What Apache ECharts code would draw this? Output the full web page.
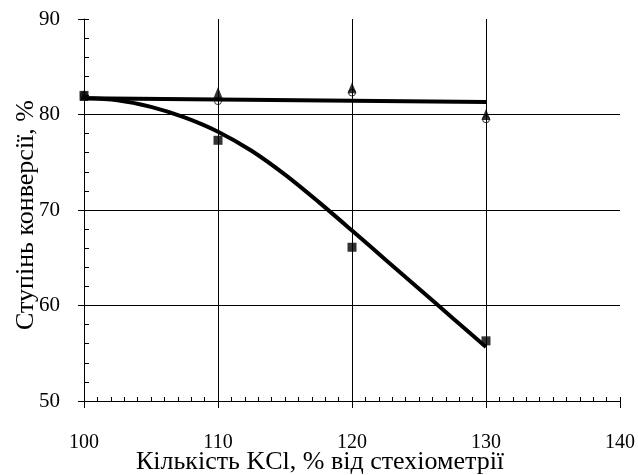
<!DOCTYPE html>
<html>
<head>
<meta charset="utf-8">
<script src="https://cdn.jsdelivr.net/npm/echarts@6/dist/echarts.min.js"></script>
<style>
html,body{margin:0;padding:0;background:#fff;}
#chart{width:638px;height:475px;}
</style>
</head>
<body>
<div id="chart"></div>
<script>
// Measured points
const xPoints = [100, 110, 120, 130];
const squareVals = [82.0, 77.3, 66.1, 56.3];
const triangleVals = [82.0, 82.3, 82.8, 80.0];
const circleVals = [82.0, 81.4, 82.3, 79.5];
// Fitted lines
const upperFitX = [100, 130];
const upperFitY = [81.7, 81.3];
const lowerFitX = [100, 102.5, 105, 107.5, 110, 112.5, 115, 117.5, 120, 122.5, 125, 127.5, 130];
const lowerFitY = [81.7, 81.5, 80.8, 79.7, 78.2, 76.2, 73.7, 70.85, 67.85, 64.8, 61.75, 58.7, 55.65];
// Axis settings
const xMin = 100, xMax = 140, xStep = 10;
const yMin = 50, yMax = 90, yStep = 10;
const xTitle = 'Кількість KCl, % від стехіометрії';
const yTitle = 'Ступінь конверсії, %';

const font = 'Liberation Serif';
const zip = (xs, ys) => xs.map((x, i) => [x, ys[i]]);

const chart = echarts.init(document.getElementById('chart'));
chart.setOption({
  animation: false,
  backgroundColor: '#fff',
  grid: { left: 84, right: 18, top: 19, bottom: 74, outerBoundsMode: 'none', containLabel: false },
  xAxis: [
    {
      type: 'value', min: xMin, max: xMax, interval: xStep,
      name: xTitle, nameLocation: 'middle', nameGap: 48, nameMoveOverlap: false,
      nameTextStyle: { fontFamily: font, fontSize: 26, color: '#000', padding: [0, 64, 0, 0] },
      axisLine: { lineStyle: { color: '#000', width: 1 } },
      axisTick: { show: true, inside: false, length: 7, lineStyle: { color: '#000' } },
      axisLabel: { fontFamily: font, fontSize: 20, color: '#000', margin: 32 },
      splitLine: { show: true, showMinLine: false, showMaxLine: false, lineStyle: { color: '#000', width: 1 } }
    },
    {
      type: 'value', min: xMin, max: xMax, interval: xStep, position: 'bottom',
      axisLine: { show: false },
      axisTick: { show: true, inside: true, length: 4, lineStyle: { color: '#000' } },
      minorTick: { show: true, splitNumber: 10, length: 4, lineStyle: { color: '#000' } },
      axisLabel: { show: false },
      splitLine: { show: false }
    }
  ],
  yAxis: [
    {
      type: 'value', min: yMin, max: yMax, interval: yStep,
      name: yTitle, nameLocation: 'middle', nameGap: 45, nameMoveOverlap: false,
      nameTextStyle: { fontFamily: font, fontSize: 26, color: '#000', padding: [0, 10, 0, 0] },
      axisLine: { show: true, lineStyle: { color: '#000', width: 1 } },
      axisTick: { show: true, inside: false, length: 6, lineStyle: { color: '#000' } },
      axisLabel: { fontFamily: font, fontSize: 21, color: '#000', margin: 24 },
      splitLine: { show: true, showMinLine: false, showMaxLine: false, lineStyle: { color: '#000', width: 1 } }
    },
    {
      type: 'value', min: yMin, max: yMax, interval: yStep, position: 'left',
      axisLine: { show: false },
      axisTick: { show: true, inside: true, length: 5, lineStyle: { color: '#000' } },
      minorTick: { show: true, splitNumber: 5, length: 5, lineStyle: { color: '#000' } },
      axisLabel: { show: false },
      splitLine: { show: false }
    }
  ],
  series: [
    {
      type: 'line', data: zip(upperFitX, upperFitY), symbol: 'none',
      lineStyle: { color: '#000', width: 4 }, z: 3
    },
    {
      type: 'line', data: zip(lowerFitX, lowerFitY), symbol: 'none', smooth: 0.3,
      lineStyle: { color: '#000', width: 4 }, z: 3
    },
    {
      type: 'scatter', data: zip(xPoints, triangleVals), symbol: 'triangle', symbolSize: [9, 11],
      itemStyle: { color: '#000' }, z: 4
    },
    {
      type: 'scatter', data: zip(xPoints, circleVals), symbol: 'circle', symbolSize: 7,
      itemStyle: { color: 'rgba(0,0,0,0)', borderColor: '#000', borderWidth: 1 }, z: 5
    },
    {
      type: 'scatter', data: zip(xPoints, squareVals), symbol: 'rect', symbolSize: 9,
      itemStyle: { color: '#000' }, z: 6
    }
  ]
});
</script>
</body>
</html>
